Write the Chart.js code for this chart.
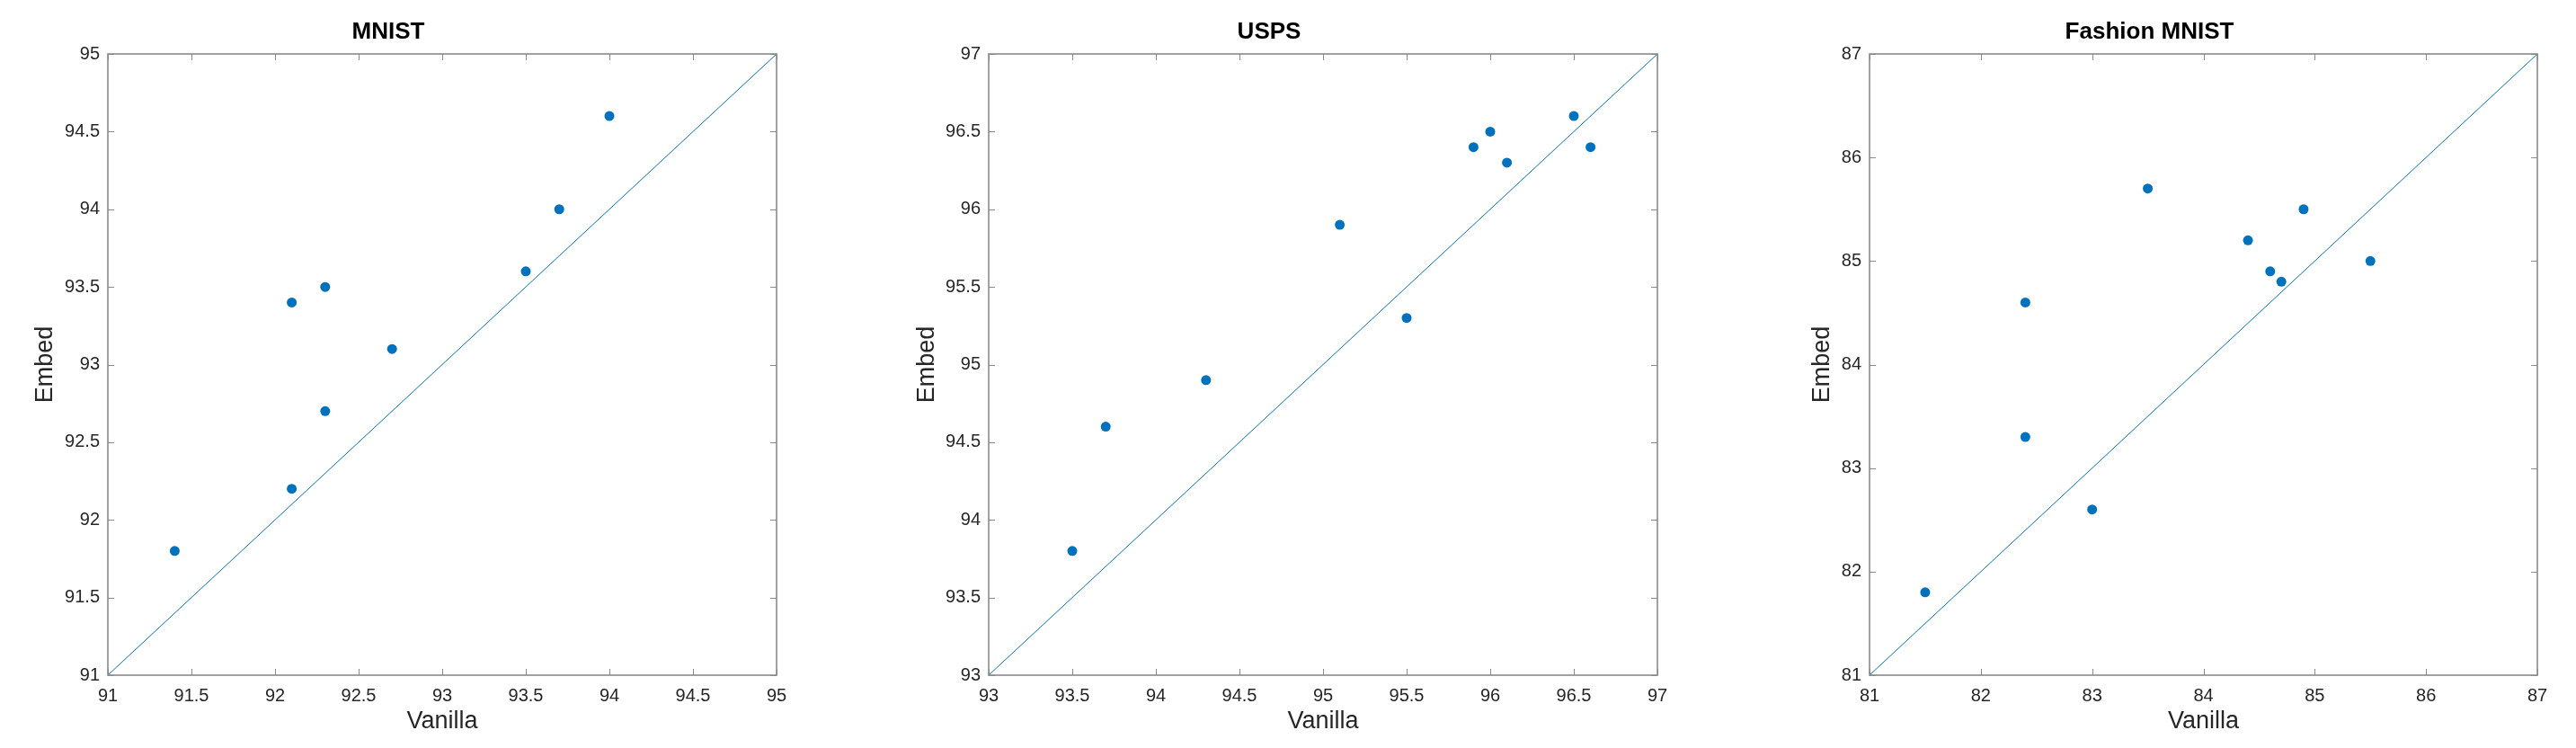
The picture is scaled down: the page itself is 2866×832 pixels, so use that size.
<!DOCTYPE html>
<html>
<head>
<meta charset="utf-8">
<script src="https://cdn.jsdelivr.net/npm/chart.js@4/dist/chart.umd.min.js"></script>
<style>
  html, body { margin: 0; padding: 0; background: #fff; overflow: hidden; }
  body { width: 2866px; height: 832px; position: relative; }
  .panel { position: absolute; top: 0; height: 832px; }
</style>
</head>
<body>
<div class="panel" id="p1" style="left:0px;width:984px"><canvas id="c1"></canvas></div>
<div class="panel" id="p2" style="left:980px;width:984px"><canvas id="c2"></canvas></div>
<div class="panel" id="p3" style="left:1960px;width:983px"><canvas id="c3"></canvas></div>
<script>
// valores
const mnistVanilla = [91.4, 92.1, 92.1, 92.3, 92.3, 92.7, 93.5, 93.7, 94.0];
const mnistEmbed   = [91.8, 92.2, 93.4, 93.5, 92.7, 93.1, 93.6, 94.0, 94.6];
const mnistRange = [91, 95];

const uspsVanilla = [93.5, 93.7, 94.3, 95.1, 95.5, 95.9, 96.0, 96.1, 96.5, 96.6];
const uspsEmbed   = [93.8, 94.6, 94.9, 95.9, 95.3, 96.4, 96.5, 96.3, 96.6, 96.4];
const uspsRange = [93, 97];

const fashionVanilla = [81.5, 82.4, 82.4, 83.0, 83.5, 84.4, 84.6, 84.7, 84.9, 85.5];
const fashionEmbed   = [81.8, 84.6, 83.3, 82.6, 85.7, 85.2, 84.9, 84.8, 85.5, 85.0];
const fashionRange = [81, 87];

const AZUL = '#0072BD';
const GRIS = '#8a8a8a';
const TEXTO = '#262626';
const FUENTE = '"Liberation Sans", Arial, Helvetica, sans-serif';

// caja y marcas hacia dentro, estilo MATLAB
const cajaPlugin = {
    id: 'caja',
    afterDraw(chart) {
        const ctx = chart.ctx;
        const a = chart.chartArea;
        const sx = chart.scales.x;
        const sy = chart.scales.y;
        const largo = 7;
        ctx.save();
        ctx.strokeStyle = GRIS;
        ctx.lineWidth = 1;
        ctx.beginPath();
        sx.ticks.forEach(t => {
            const px = Math.round(sx.getPixelForValue(t.value)) + 0.5;
            ctx.moveTo(px, a.bottom);
            ctx.lineTo(px, a.bottom - largo);
            ctx.moveTo(px, a.top);
            ctx.lineTo(px, a.top + largo);
        });
        sy.ticks.forEach(t => {
            const py = Math.round(sy.getPixelForValue(t.value)) + 0.5;
            ctx.moveTo(a.left, py);
            ctx.lineTo(a.left + largo, py);
            ctx.moveTo(a.right, py);
            ctx.lineTo(a.right - largo, py);
        });
        ctx.stroke();
        ctx.lineWidth = 1.6;
        ctx.strokeRect(a.left, a.top, a.right - a.left, a.bottom - a.top);
        ctx.restore();
    }
};

function crearGrafica(idCanvas, titulo, vanilla, embed, rango, paso, despEmbed) {
    const ctx = document.getElementById(idCanvas).getContext('2d');
    const puntos = vanilla.map((v, i) => ({ x: v, y: embed[i] }));
    const diagonal = rango.map(v => ({ x: v, y: v }));

    return new Chart(ctx, {
        type: 'scatter',
        data: {
            datasets: [
                {
                    data: puntos,
                    backgroundColor: AZUL,
                    borderColor: AZUL,
                    borderWidth: 0,
                    pointRadius: 5.5,
                    order: 1,
                },
                {
                    type: 'line',
                    data: diagonal,
                    borderColor: AZUL,
                    borderWidth: 1,
                    pointRadius: 0,
                    fill: false,
                    order: 2,
                },
            ],
        },
        options: {
            responsive: true,
            maintainAspectRatio: false,
            animation: false,
            layout: { padding: { left: 0, right: 120, top: 0, bottom: 0 } },
            plugins: {
                legend: { display: false },
                tooltip: { enabled: false },
                title: {
                    display: true,
                    text: titulo,
                    color: '#000',
                    font: { family: FUENTE, size: 26, weight: 'bold', lineHeight: 1 },
                    padding: { top: 23, bottom: 11 },
                },
            },
            scales: {
                x: {
                    type: 'linear',
                    min: rango[0],
                    max: rango[1],
                    grid: { display: false, drawTicks: false },
                    border: { display: false },
                    ticks: {
                        stepSize: paso,
                        padding: 11,
                        color: TEXTO,
                        font: { family: FUENTE, size: 20 },
                        maxRotation: 0,
                        callback: v => String(v),
                    },
                    title: {
                        display: true,
                        text: 'Vanilla',
                        color: TEXTO,
                        font: { family: FUENTE, size: 27, lineHeight: 1 },
                        padding: { top: 0, bottom: 16 },
                    },
                    afterFit: s => { s.height = 81; },
                },
                y: {
                    type: 'linear',
                    min: rango[0],
                    max: rango[1],
                    grid: { display: false, drawTicks: false },
                    border: { display: false },
                    ticks: {
                        stepSize: paso,
                        padding: 9,
                        color: TEXTO,
                        font: { family: FUENTE, size: 20 },
                        callback: v => String(v),
                    },
                    title: {
                        display: true,
                        text: 'Embed',
                        color: TEXTO,
                        font: { family: FUENTE, size: 27, lineHeight: 1 },
                        padding: { top: despEmbed, bottom: 0 },
                    },
                    afterFit: s => { s.width = 120; },
                },
            },
        },
        plugins: [cajaPlugin],
    });
}

crearGrafica('c1', 'MNIST', mnistVanilla, mnistEmbed, mnistRange, 0.5, 37.5);
crearGrafica('c2', 'USPS', uspsVanilla, uspsEmbed, uspsRange, 0.5, 38.5);
crearGrafica('c3', 'Fashion MNIST', fashionVanilla, fashionEmbed, fashionRange, 1, 54.5);
</script>
</body>
</html>
